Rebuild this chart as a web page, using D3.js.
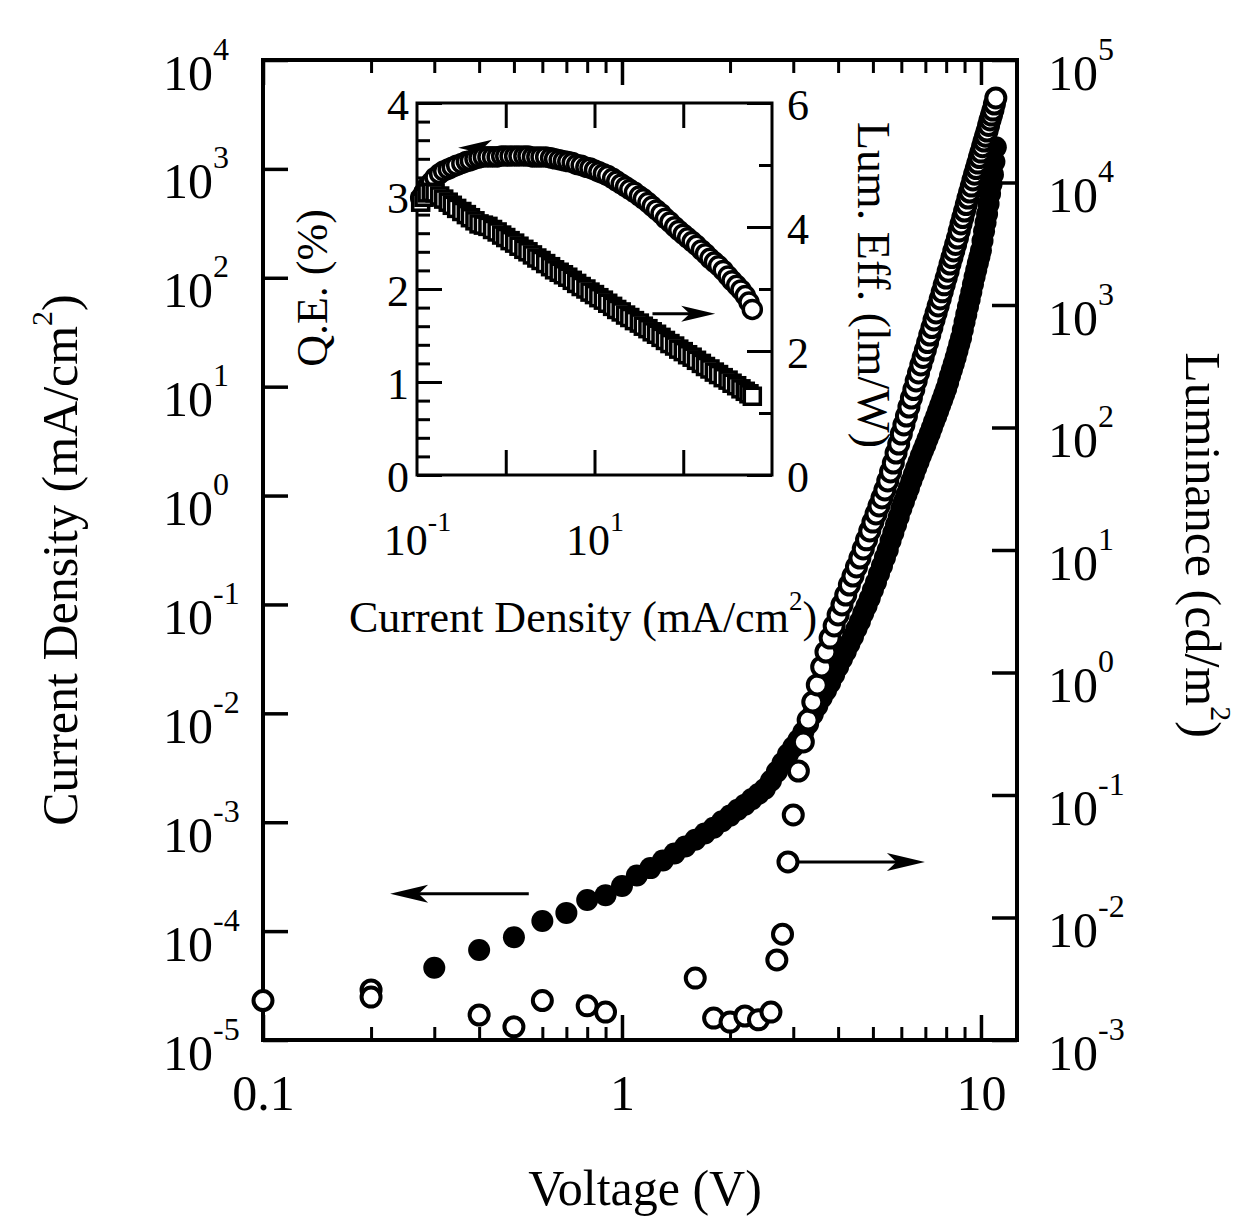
<!DOCTYPE html>
<html>
<head>
<meta charset="utf-8">
<script src="https://cdn.jsdelivr.net/npm/d3@7"></script>
<style>
  body { margin: 0; background: #fff; }
  svg { display: block; }
  text { font-family: "Liberation Serif", "Times New Roman", serif; fill: #000; }
</style>
</head>
<body>
<svg id="chart" width="1240" height="1217"></svg>
<script>
// ---- main plot data ----
// current density (mA/cm2), filled circles, left axis
const currentVoltage = [0.3, 0.4, 0.5, 0.6, 0.7, 0.8, 0.9,
  1.0, 1.1, 1.2, 1.3, 1.4, 1.5, 1.6, 1.7, 1.8, 1.9,
  2.0, 2.1, 2.2, 2.3, 2.4, 2.5, 2.6, 2.7, 2.8, 2.9,
  3.0, 3.1, 3.2, 3.3, 3.4, 3.5, 3.6, 3.7, 3.8, 3.9,
  4.0, 4.1, 4.2, 4.3, 4.4, 4.5, 4.6, 4.7, 4.8, 4.9,
  5.0, 5.1, 5.2, 5.3, 5.4, 5.5, 5.6, 5.7, 5.8, 5.9,
  6.0, 6.1, 6.2, 6.3, 6.4, 6.5, 6.6, 6.7, 6.8, 6.9,
  7.0, 7.1, 7.2, 7.3, 7.4, 7.5, 7.6, 7.7, 7.8, 7.9,
  8.0, 8.1, 8.2, 8.3, 8.4, 8.5, 8.6, 8.7, 8.8, 8.9,
  9.0, 9.1, 9.2, 9.3, 9.4, 9.5, 9.6, 9.7, 9.8, 9.9,
  10.0, 10.1, 10.2, 10.3, 10.4, 10.5, 10.6, 10.7, 10.8, 10.9,
  11.0];
const currentDensity = [4.6e-5, 6.7e-5, 8.8e-5, 1.24e-4, 1.47e-4, 1.93e-4, 2.14e-4,
  2.6e-4, 3.24e-4, 3.79e-4, 4.46e-4, 5.16e-4, 5.98e-4, 6.89e-4, 7.87e-4, 8.9e-4, 1.02e-3,
  1.15e-3, 1.30e-3, 1.45e-3, 1.63e-3, 1.82e-3, 2.03e-3, 2.40e-3, 2.91e-3, 3.5e-3, 4.2e-3,
  4.9e-3, 5.7e-3, 6.7e-3, 8.0e-3, 0.0098, 0.0117, 0.0139, 0.0162, 0.0190, 0.0226,
  0.0268, 0.0316, 0.0368, 0.0434, 0.0504, 0.0597, 0.0698, 0.0828, 0.0966, 0.114,
  0.136, 0.160, 0.191, 0.226, 0.269, 0.316, 0.384, 0.454, 0.538, 0.636,
  0.755, 0.879, 1.02, 1.17, 1.36, 1.56, 1.79, 2.03, 2.32, 2.60,
  2.92, 3.30, 3.72, 4.20, 4.75, 5.33, 5.99, 6.74, 7.57, 8.50,
  9.57, 10.9, 12.6, 14.3, 16.2, 18.5, 21.3, 24.5, 28.0, 33.2,
  39.3, 46.1, 54.1, 63.3, 74.1, 87.1, 102, 118, 136, 156,
  178, 219, 268, 322, 386, 477, 590, 722, 886, 1160,
  1580];

// luminance (cd/m2), open circles, right axis
const lumVoltage = [0.1, 0.2, 0.2, 0.4, 0.5, 0.6, 0.8, 0.9, 1.6, 1.8, 2.0, 2.2, 2.4, 2.6,
  2.7, 2.8, 2.9, 3.0,
  3.1, 3.2, 3.3, 3.4, 3.5, 3.6, 3.7, 3.8, 3.9,
  4.0, 4.1, 4.2, 4.3, 4.4, 4.5, 4.6, 4.7, 4.8, 4.9,
  5.0, 5.1, 5.2, 5.3, 5.4, 5.5, 5.6, 5.7, 5.8, 5.9,
  6.0, 6.1, 6.2, 6.3, 6.4, 6.5, 6.6, 6.7, 6.8, 6.9,
  7.0, 7.1, 7.2, 7.3, 7.4, 7.5, 7.6, 7.7, 7.8, 7.9,
  8.0, 8.1, 8.2, 8.3, 8.4, 8.5, 8.6, 8.7, 8.8, 8.9,
  9.0, 9.1, 9.2, 9.3, 9.4, 9.5, 9.6, 9.7, 9.8, 9.9,
  10.0, 10.1, 10.2, 10.3, 10.4, 10.5, 10.6, 10.7, 10.8, 10.9,
  11.0];
const luminance = [2.1e-3, 2.56e-3, 2.24e-3, 1.6e-3, 1.28e-3, 2.1e-3, 1.9e-3, 1.69e-3, 3.2e-3, 1.51e-3, 1.4e-3, 1.57e-3, 1.46e-3, 1.69e-3,
  4.5e-3, 7.3e-3, 0.0284, 0.0687,
  0.157, 0.271, 0.409, 0.574, 0.791, 1.11, 1.47, 1.91, 2.40,
  2.95, 3.56, 4.29, 5.18, 6.13, 7.27, 8.60, 10.2, 12.1, 14.3,
  16.9, 19.7, 22.9, 26.6, 30.9, 36.6, 43.4, 51.3, 61.9, 73.3,
  88.5, 105, 124, 147, 174, 204, 240, 279, 324, 373,
  429, 494, 569, 655, 755, 861, 982, 1120, 1280, 1460,
  1660, 1890, 2160, 2440, 2760, 3120, 3520, 4020, 4590, 5180,
  5850, 6610, 7470, 8360, 9350, 10500, 11700, 13000, 14400, 16000,
  17700, 19600, 21800, 23900, 26300, 29200, 32400, 35500, 39000, 43700,
  49000];

// ---- inset data ----
const insetCurrent = [0.11, 0.12, 0.13, 0.145, 0.16, 0.18, 0.2, 0.225, 0.25, 0.28,
  0.32, 0.36, 0.4, 0.45, 0.5, 0.56, 0.63, 0.71, 0.8, 0.9,
  1.0, 1.12, 1.26, 1.41, 1.6, 1.78, 2.0, 2.24, 2.5, 2.82,
  3.2, 3.55, 4.0, 4.47, 5.0, 5.62, 6.3, 7.08, 8.0, 8.9,
  10, 11.2, 12.6, 14.1, 16, 17.8, 20, 22.4, 25, 28.2,
  32, 35.5, 40, 44.7, 50, 56.2, 63, 70.8, 80, 89,
  100, 112, 126, 141, 160, 178, 200, 224, 250, 282,
  320, 355, 400, 447, 500, 550, 600];
const insetQE = [2.98, 3.04, 3.10, 3.15, 3.20, 3.24, 3.27, 3.29, 3.31, 3.33,
  3.35, 3.37, 3.38, 3.40, 3.41, 3.42, 3.42, 3.42, 3.42, 3.43,
  3.43, 3.43, 3.43, 3.43, 3.43, 3.43, 3.42, 3.42, 3.42, 3.42,
  3.41, 3.40, 3.39, 3.38, 3.37, 3.36, 3.34, 3.33, 3.31, 3.30,
  3.28, 3.26, 3.24, 3.22, 3.19, 3.16, 3.13, 3.10, 3.07, 3.04,
  3.00, 2.97, 2.93, 2.89, 2.85, 2.81, 2.76, 2.72, 2.67, 2.63,
  2.59, 2.55, 2.51, 2.47, 2.42, 2.38, 2.33, 2.29, 2.25, 2.20,
  2.14, 2.09, 2.04, 1.99, 1.93, 1.86, 1.78];
const insetLumEff = [4.40, 4.48, 4.55, 4.56, 4.55, 4.50, 4.45, 4.40, 4.35, 4.30,
  4.25, 4.20, 4.15, 4.10, 4.05, 4.03, 4.01, 3.96, 3.92, 3.87,
  3.83, 3.78, 3.74, 3.69, 3.64, 3.60, 3.55, 3.50, 3.46, 3.41,
  3.36, 3.31, 3.27, 3.23, 3.19, 3.14, 3.09, 3.04, 3.00, 2.95,
  2.91, 2.86, 2.82, 2.77, 2.72, 2.67, 2.63, 2.58, 2.54, 2.49,
  2.45, 2.40, 2.36, 2.31, 2.27, 2.22, 2.17, 2.12, 2.08, 2.03,
  1.99, 1.94, 1.90, 1.85, 1.80, 1.75, 1.71, 1.66, 1.62, 1.57,
  1.53, 1.48, 1.44, 1.39, 1.35, 1.31, 1.27];

// ---- ticks ----
const leftDecades = [1e-5, 1e-4, 1e-3, 1e-2, 1e-1, 1, 1e1, 1e2, 1e3, 1e4];
const rightDecades = [1e-3, 1e-2, 1e-1, 1, 1e1, 1e2, 1e3, 1e4, 1e5];
const voltMajor = [0.1, 1, 10];
const voltMinor = [0.2, 0.3, 0.4, 0.5, 0.6, 0.7, 0.8, 0.9, 2, 3, 4, 5, 6, 7, 8, 9];
const voltLabels = ["0.1", "1", "10"];
const insetXTicks = [1, 10, 100];
const insetXLabels = [0.1, 10];
const qeMajor = [0, 1, 2, 3, 4];
const qeMinor = [0.2, 0.4, 0.6, 0.8, 1.2, 1.4, 1.6, 1.8, 2.2, 2.4, 2.6, 2.8, 3.2, 3.4, 3.6, 3.8];
const leMajor = [0, 2, 4, 6];
const leMinor = [1, 3, 5];

const svg = d3.select("#chart");

const margin = { top: 60, right: 223, bottom: 177, left: 263 };
const W = 1240, H = 1217;

const x = d3.scaleLog().domain([0.1, 12.6]).range([margin.left, W - margin.right]);
const yJ = d3.scaleLog().domain([1e-5, 1e4]).range([H - margin.bottom, margin.top]);
const yL = d3.scaleLog().domain([1e-3, 1e5]).range([H - margin.bottom, margin.top]);

const inset = { left: 417, right: 772, top: 103, bottom: 475 };
const ix = d3.scaleLog().domain([0.1, 1000]).range([inset.left, inset.right]);
const iqe = d3.scaleLinear().domain([0, 4]).range([inset.bottom, inset.top]);
const ile = d3.scaleLinear().domain([0, 6]).range([inset.bottom, inset.top]);

const cleanAxis = (g, sw) => {
  g.attr("font-size", null).attr("font-family", null);
  g.select(".domain").remove();
  g.selectAll(".tick line").attr("stroke", "#000").attr("stroke-width", sw);
};

const powerLabel = (sel, sup, dy) => {
  sel.each(function (d) {
    const t = d3.select(this).text(null);
    t.append("tspan").text("10");
    t.append("tspan")
      .attr("dy", -dy)
      .attr("font-size", sup)
      .text(Math.round(Math.log10(d)));
  });
};

const bottomY = H - margin.bottom;
const rightX = W - margin.right;

// ---- main axes ----
svg.append("g").attr("transform", `translate(0,${bottomY})`)
  .call(d3.axisBottom(x).tickValues(voltMinor).tickSize(-13).tickFormat(""))
  .call(cleanAxis, 3);
const bx = svg.append("g").attr("transform", `translate(0,${bottomY})`)
  .call(d3.axisBottom(x).tickValues(voltMajor).tickSize(-25).tickFormat((d, i) => voltLabels[i]))
  .call(cleanAxis, 3.5);
bx.selectAll(".tick text").attr("y", 70).attr("dy", null).attr("font-size", 50);

svg.append("g").attr("transform", `translate(0,${margin.top})`)
  .call(d3.axisTop(x).tickValues(voltMinor).tickSize(-13).tickFormat(""))
  .call(cleanAxis, 3);
svg.append("g").attr("transform", `translate(0,${margin.top})`)
  .call(d3.axisTop(x).tickValues(voltMajor).tickSize(-25).tickFormat(""))
  .call(cleanAxis, 3.5);

const lx = svg.append("g").attr("transform", `translate(${margin.left},0)`)
  .call(d3.axisLeft(yJ).tickValues(leftDecades).tickSize(-25))
  .call(cleanAxis, 3.5);
lx.selectAll(".tick text")
  .attr("text-anchor", "start").attr("x", -100).attr("y", 29).attr("dy", null)
  .attr("font-size", 50)
  .call(powerLabel, 32, 30);

const rx = svg.append("g").attr("transform", `translate(${rightX},0)`)
  .call(d3.axisRight(yL).tickValues(rightDecades).tickSize(-25))
  .call(cleanAxis, 3.5);
rx.selectAll(".tick text")
  .attr("text-anchor", "start").attr("x", 31).attr("y", 29).attr("dy", null)
  .attr("font-size", 50)
  .call(powerLabel, 32, 30);

svg.append("rect")
  .attr("x", margin.left).attr("y", margin.top)
  .attr("width", rightX - margin.left).attr("height", bottomY - margin.top)
  .attr("fill", "none").attr("stroke", "#000").attr("stroke-width", 4);

// ---- main titles ----
svg.append("text").attr("x", 645).attr("y", 1205)
  .attr("text-anchor", "middle").attr("font-size", 50).text("Voltage (V)");

const leftTitle = svg.append("text")
  .attr("transform", "translate(77,560) rotate(-90)")
  .attr("text-anchor", "middle").attr("font-size", 50);
leftTitle.append("tspan").text("Current Density (mA/cm");
leftTitle.append("tspan").attr("dy", -25).attr("font-size", 30).text("2");
leftTitle.append("tspan").attr("dy", 25).text(")");

const rightTitle = svg.append("text")
  .attr("transform", "translate(1186,545) rotate(90)")
  .attr("text-anchor", "middle").attr("font-size", 50);
rightTitle.append("tspan").text("Luminance (cd/m");
rightTitle.append("tspan").attr("dy", -25).attr("font-size", 30).text("2");
rightTitle.append("tspan").attr("dy", 25).text(")");

// ---- arrows ----
const arrow = (g, x1, y1, x2, y2, len, half) => {
  const dir = Math.sign(x2 - x1);
  g.append("line").attr("x1", x1).attr("y1", y1).attr("x2", x2 - dir * len * 0.6).attr("y2", y2)
    .attr("stroke", "#000").attr("stroke-width", 3);
  g.append("path")
    .attr("d", `M${x2},${y2} L${x2 - dir * len},${y2 - half} L${x2 - dir * len * 0.75},${y2} L${x2 - dir * len},${y2 + half} Z`)
    .attr("fill", "#000");
};

const ann = svg.append("g");
arrow(ann, x(0.55), yJ(2.2e-4), x(0.226), yJ(2.2e-4), 38, 9);
arrow(ann, x(2.9), yL(0.0284), x(6.98), yL(0.0284), 38, 9);

// ---- main data ----
const currentData = d3.zip(currentVoltage, currentDensity);
const lumData = d3.zip(lumVoltage, luminance);

svg.append("g").selectAll("circle")
  .data(currentData)
  .join("circle")
  .attr("cx", d => x(d[0]))
  .attr("cy", d => yJ(d[1]))
  .attr("r", 11)
  .attr("fill", "#000");

svg.append("g").selectAll("circle")
  .data(lumData)
  .join("circle")
  .attr("cx", d => x(d[0]))
  .attr("cy", d => yL(d[1]))
  .attr("r", 9.5)
  .attr("fill", "#fff")
  .attr("stroke", "#000")
  .attr("stroke-width", 4);

// ---- inset ----
const ins = svg.append("g");
ins.append("rect")
  .attr("x", inset.left).attr("y", inset.top)
  .attr("width", inset.right - inset.left).attr("height", inset.bottom - inset.top)
  .attr("fill", "#fff");

ins.append("g").attr("transform", `translate(0,${inset.bottom})`)
  .call(d3.axisBottom(ix).tickValues(insetXTicks).tickSize(-25).tickFormat(""))
  .call(cleanAxis, 3);
ins.append("g").attr("transform", `translate(0,${inset.top})`)
  .call(d3.axisTop(ix).tickValues(insetXTicks).tickSize(-25).tickFormat(""))
  .call(cleanAxis, 3);
const ixl = ins.append("g").attr("transform", `translate(0,${inset.bottom})`)
  .call(d3.axisBottom(ix).tickValues(insetXLabels).tickSize(0))
  .call(cleanAxis, 0);
ixl.selectAll(".tick text")
  .attr("y", 80).attr("dy", null).attr("font-size", 44)
  .call(powerLabel, 28, 24);

ins.append("g").attr("transform", `translate(${inset.left},0)`)
  .call(d3.axisLeft(iqe).tickValues(qeMinor).tickSize(-13).tickFormat(""))
  .call(cleanAxis, 3);
const iql = ins.append("g").attr("transform", `translate(${inset.left},0)`)
  .call(d3.axisLeft(iqe).tickValues(qeMajor).tickSize(-25).tickFormat(d3.format("d")))
  .call(cleanAxis, 3);
iql.selectAll(".tick text").attr("x", -8).attr("y", 16).attr("dy", null).attr("font-size", 44);

ins.append("g").attr("transform", `translate(${inset.right},0)`)
  .call(d3.axisRight(ile).tickValues(leMinor).tickSize(-13).tickFormat(""))
  .call(cleanAxis, 3);
const ilr = ins.append("g").attr("transform", `translate(${inset.right},0)`)
  .call(d3.axisRight(ile).tickValues(leMajor).tickSize(-25).tickFormat(d3.format("d")))
  .call(cleanAxis, 3);
ilr.selectAll(".tick text").attr("x", 15).attr("y", 16).attr("dy", null).attr("font-size", 44);

ins.append("rect")
  .attr("x", inset.left).attr("y", inset.top)
  .attr("width", inset.right - inset.left).attr("height", inset.bottom - inset.top)
  .attr("fill", "none").attr("stroke", "#000").attr("stroke-width", 3);

const insetData = d3.zip(insetCurrent, insetQE, insetLumEff);

arrow(ins, ix(1.5), iqe(3.52), ix(0.29), iqe(3.52), 34, 8);
arrow(ins, ix(45), ile(2.6), ix(229), ile(2.6), 34, 8);

ins.append("g").selectAll("circle")
  .data(insetData)
  .join("circle")
  .attr("cx", d => ix(d[0]))
  .attr("cy", d => iqe(d[1]))
  .attr("r", 9)
  .attr("fill", "#fff")
  .attr("stroke", "#000")
  .attr("stroke-width", 3.5);

ins.append("g").selectAll("rect")
  .data(insetData)
  .join("rect")
  .attr("x", d => ix(d[0]) - 8)
  .attr("y", d => ile(d[2]) - 8)
  .attr("width", 16)
  .attr("height", 16)
  .attr("fill", "#fff")
  .attr("stroke", "#000")
  .attr("stroke-width", 3.5);

// inset titles
const ixTitle = ins.append("text")
  .attr("x", 583).attr("y", 632)
  .attr("text-anchor", "middle").attr("font-size", 44);
ixTitle.append("tspan").text("Current Density (mA/cm");
ixTitle.append("tspan").attr("dy", -22).attr("font-size", 27).text("2");
ixTitle.append("tspan").attr("dy", 22).text(")");

ins.append("text")
  .attr("transform", "translate(327,288) rotate(-90)")
  .attr("text-anchor", "middle").attr("font-size", 44)
  .text("Q.E. (%)");

ins.append("text")
  .attr("transform", "translate(858,285) rotate(90)")
  .attr("text-anchor", "middle").attr("font-size", 46)
  .text("Lum. Eff. (lm/W)");
</script>
</body>
</html>
